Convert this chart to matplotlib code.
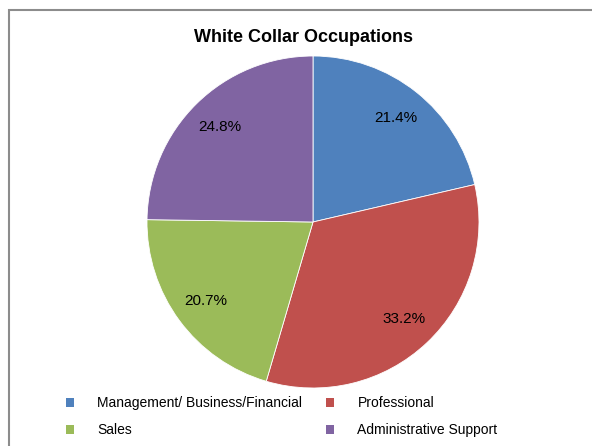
import matplotlib
matplotlib.use('Agg')
import matplotlib.pyplot as plt
from matplotlib.patches import Rectangle

# White collar occupations share
labels = ['Management/ Business/Financial', 'Professional', 'Sales', 'Administrative Support']
values = [21.4, 33.2, 20.7, 24.8]
colors = ['#4F81BD', '#C0504D', '#9BBB59', '#8064A2']

plt.rcParams['font.family'] = ['Liberation Sans', 'DejaVu Sans']

W, H = 592, 446
fig = plt.figure(figsize=(W / 100, H / 100), dpi=100)

# outer chart frame (cut off at right/bottom like the screenshot)
fig.patches.append(Rectangle((8.5 / W, -0.1), 1.2, 1 - 9.5 / H + 0.1, transform=fig.transFigure,
                             fill=False, edgecolor='#8c8c8c', linewidth=1.5))

cx, cy, r = 313, 222, 166
ax = fig.add_axes([(cx - r) / W, (H - cy - r) / H, 2 * r / W, 2 * r / H])
wedges, texts, autotexts = ax.pie(values, colors=colors, startangle=90, counterclock=False,
                                  autopct='%1.1f%%', pctdistance=0.8,
                                  wedgeprops=dict(edgecolor='white', linewidth=0.6),
                                  textprops=dict(fontsize=11, color='black'))
ax.set_xlim(-1, 1)
ax.set_ylim(-1, 1)
ax.axis('off')

fig.text(304 / W, 1 - 37 / H, 'White Collar Occupations', ha='center', va='center',
         fontsize=13, fontweight='bold')

# legend filled column-wise, so reorder to get row-wise layout
order = [0, 2, 1, 3]
leg = fig.legend([wedges[i] for i in order], [labels[i] for i in order], ncol=2,
                 loc='upper left', bbox_to_anchor=(66 / W, 1 - 396 / H), frameon=False,
                 fontsize=10, handlelength=0.6, handleheight=0.6, handletextpad=1.65,
                 columnspacing=1.72, labelspacing=0.95, borderpad=0, borderaxespad=0)
for h in leg.legend_handles:
    h.set_edgecolor('none')

plt.savefig('out.png', dpi=100)
plt.close()
